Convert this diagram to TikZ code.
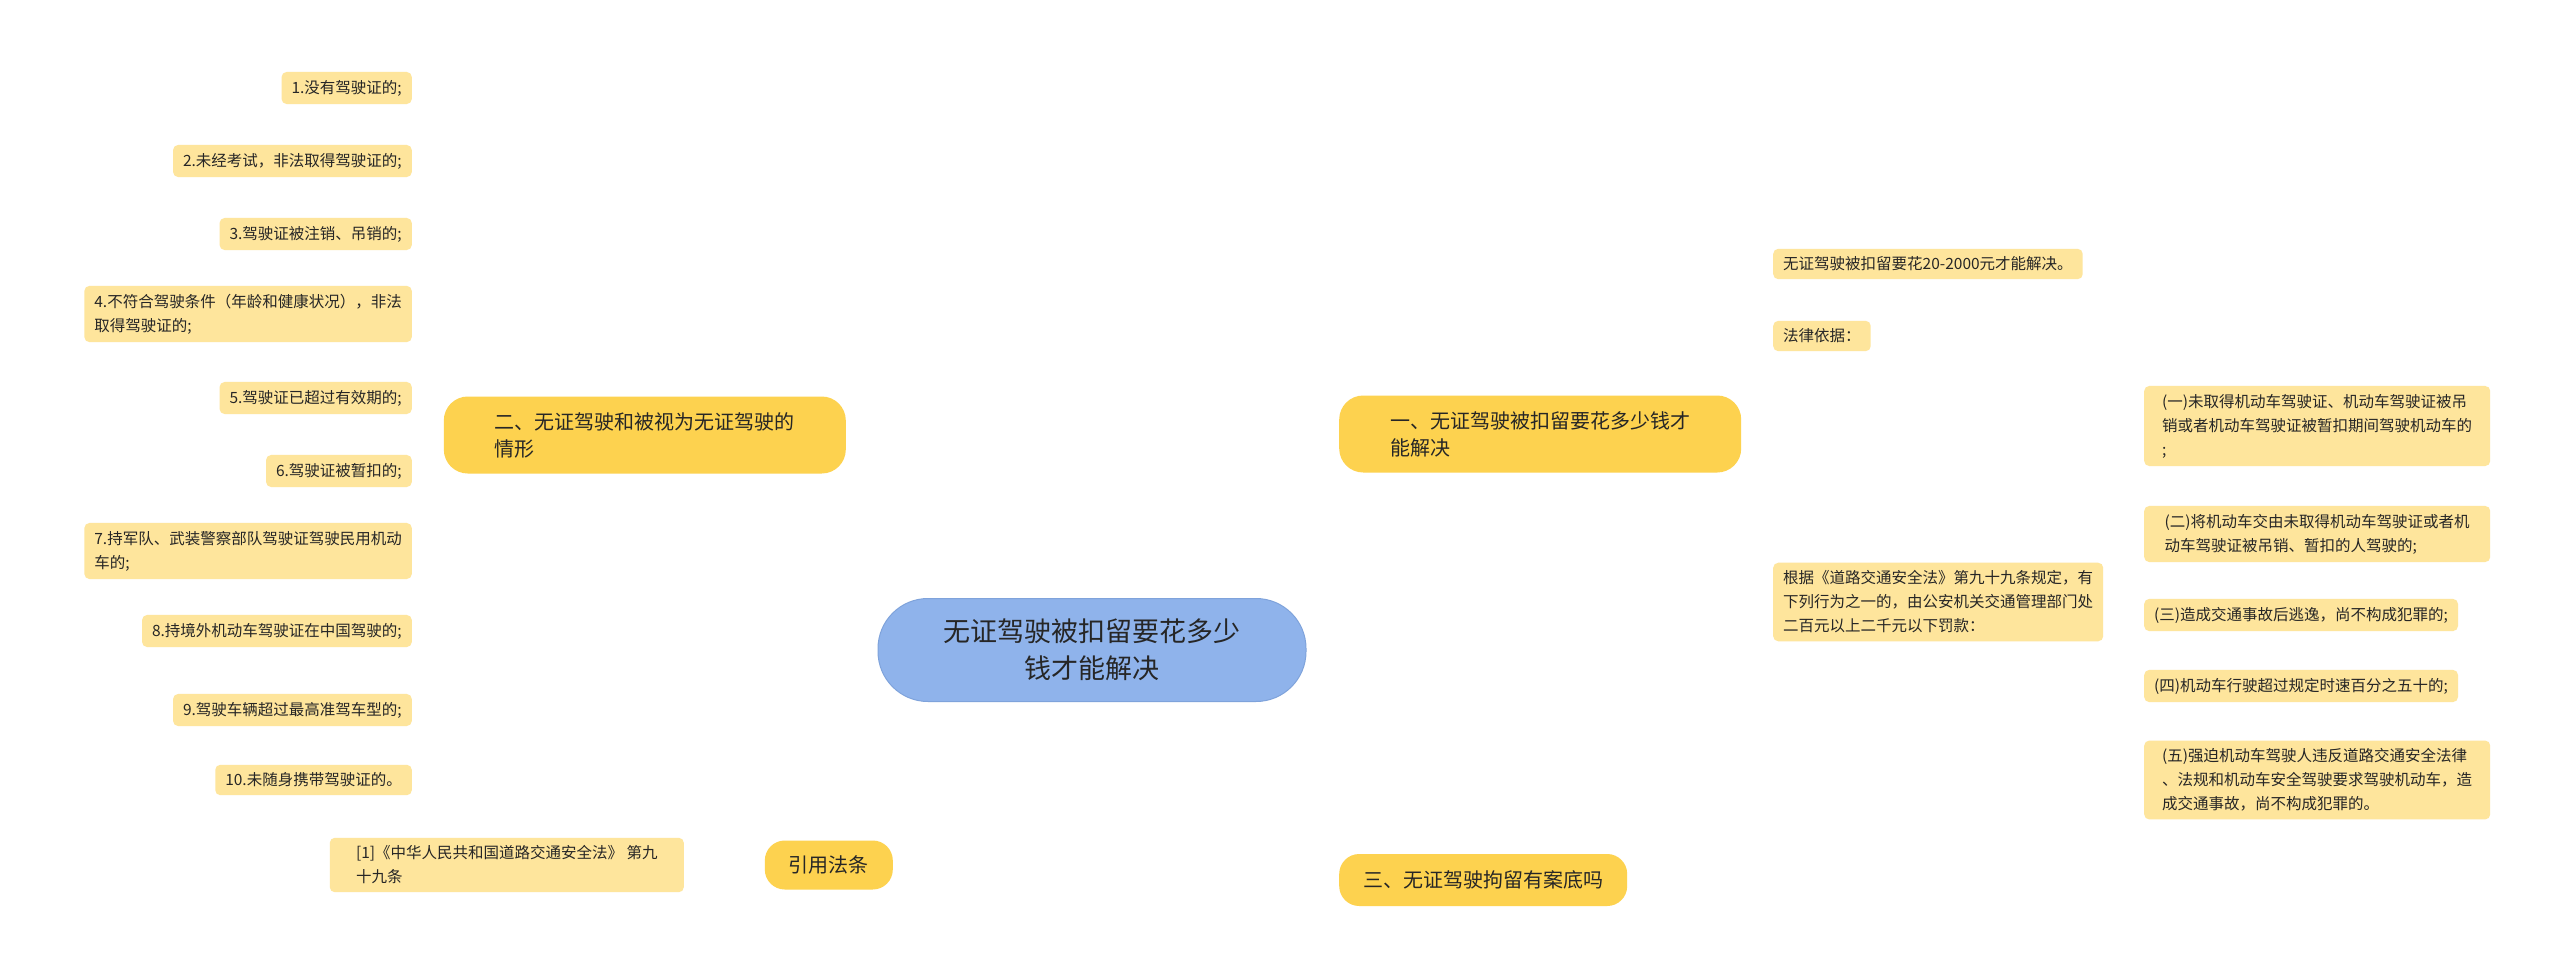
\documentclass[tikz,border=0pt]{standalone}
\usepackage{fontspec}
\setmainfont{Noto Sans CJK SC}
\usetikzlibrary{backgrounds}
\definecolor{leaffill}{HTML}{FEE59C}
\definecolor{brfill}{HTML}{FDD24F}
\definecolor{ctrfill}{HTML}{8FB3EB}
\definecolor{ctrdraw}{HTML}{7FA3DB}
\definecolor{linec}{HTML}{8AAEE2}
\tikzset{
 leaf/.style={fill=leaffill,rounded corners=5pt,inner xsep=10pt,inner ysep=8pt,align=left,font=\fontsize{15.5}{24}\selectfont,text=black!85},
 branch/.style={fill=brfill,rounded corners=24pt,inner xsep=24pt,inner ysep=10pt,align=left,font=\fontsize{20}{27}\selectfont,text=black!85},
 center/.style={fill=ctrfill,draw=ctrdraw,line width=1pt,rounded corners=50pt,inner xsep=40pt,inner ysep=14pt,align=center,font=\fontsize{27}{37}\selectfont,text=black!85},
 conn/.style={draw=linec,line width=1.6pt},
}
\begin{document}
\begin{tikzpicture}[x=1pt,y=-1pt]
\useasboundingbox[fill=white] (0,0) rectangle (2560,975);
\node[center,minimum width=428pt,minimum height=103pt] (c) at (1092,650) {无证驾驶被扣留要花多少\\钱才能解决};
% right branches
\node[branch,anchor=west,minimum height=77pt,minimum width=402pt] (b1) at (1339,434) {一、无证驾驶被扣留要花多少钱才\\能解决};
\node[branch,anchor=west,minimum height=52pt,rounded corners=20pt] (b3) at (1339,880) {三、无证驾驶拘留有案底吗};
% left branches
\node[branch,anchor=east,minimum height=77pt,minimum width=402pt] (b2) at (846,435) {二、无证驾驶和被视为无证驾驶的\\情形};
\node[branch,anchor=east,minimum height=49pt,rounded corners=20pt] (b4) at (893,865) {引用法条};
% left leaves
\node[leaf,anchor=east] (l1) at (412,88) {1.没有驾驶证的;};
\node[leaf,anchor=east] (l2) at (412,161) {2.未经考试，非法取得驾驶证的;};
\node[leaf,anchor=east] (l3) at (412,234) {3.驾驶证被注销、吊销的;};
\node[leaf,anchor=east] (l4) at (412,314) {4.不符合驾驶条件（年龄和健康状况），非法\\取得驾驶证的;};
\node[leaf,anchor=east] (l5) at (412,398) {5.驾驶证已超过有效期的;};
\node[leaf,anchor=east] (l6) at (412,471) {6.驾驶证被暂扣的;};
\node[leaf,anchor=east] (l7) at (412,551) {7.持军队、武装警察部队驾驶证驾驶民用机动\\车的;};
\node[leaf,anchor=east] (l8) at (412,631) {8.持境外机动车驾驶证在中国驾驶的;};
\node[leaf,anchor=east] (l9) at (412,710) {9.驾驶车辆超过最高准驾车型的;};
\node[leaf,anchor=east] (l10) at (412,780) {10.未随身携带驾驶证的。};
\node[leaf,anchor=east,minimum width=354pt] (r1) at (684,865) {[1]《中华人民共和国道路交通安全法》 第九\\十九条};
% right leaves
\node[leaf,anchor=west] (a1) at (1773,264) {无证驾驶被扣留要花20-2000元才能解决。};
\node[leaf,anchor=west] (a2) at (1773,336) {法律依据：};
\node[leaf,anchor=west] (a3) at (1773,602) {根据《道路交通安全法》第九十九条规定，有\\下列行为之一的，由公安机关交通管理部门处\\二百元以上二千元以下罚款：};
\node[leaf,anchor=west,minimum width=346pt] (d1) at (2144,426) {(一)未取得机动车驾驶证、机动车驾驶证被吊\\销或者机动车驾驶证被暂扣期间驾驶机动车的\\;};
\node[leaf,anchor=west,minimum width=346pt] (d2) at (2144,534) {(二)将机动车交由未取得机动车驾驶证或者机\\动车驾驶证被吊销、暂扣的人驾驶的;};
\node[leaf,anchor=west] (d3) at (2144,615) {(三)造成交通事故后逃逸，尚不构成犯罪的;};
\node[leaf,anchor=west] (d4) at (2144,686) {(四)机动车行驶超过规定时速百分之五十的;};
\node[leaf,anchor=west,minimum width=346pt] (d5) at (2144,780) {(五)强迫机动车驾驶人违反道路交通安全法律\\、法规和机动车安全驾驶要求驾驶机动车，造\\成交通事故，尚不构成犯罪的。};
\begin{scope}[on background layer]
 \draw[conn] (c.center) .. controls (1092,450) and (1200,434) .. (b1.west);
 \draw[conn] (c.center) .. controls (1092,450) and (990,435) .. (b2.east);
 \draw[conn] (c.center) .. controls (1092,850) and (1200,880) .. (b3.west);
 \draw[conn] (c.center) .. controls (1092,850) and (990,865) .. (b4.east);
 \draw[conn] (b4.west) -- (r1.east);
 \foreach \n in {l1,l2,l3,l4,l5,l6,l7,l8,l9,l10}
  \draw[conn,line width=1.3pt,rounded corners=12pt] (b2.west) -- (425,435) |- (\n.east);
 \foreach \n in {a1,a2,a3}
  \draw[conn,line width=1.3pt,rounded corners=12pt] (b1.east) -- (1759,434) |- (\n.west);
 \foreach \n in {d1,d2,d3,d4,d5}
  \draw[conn,line width=1.3pt,rounded corners=12pt] (a3.east) -- (2131,602) |- (\n.west);
\end{scope}
\end{tikzpicture}
\end{document}
